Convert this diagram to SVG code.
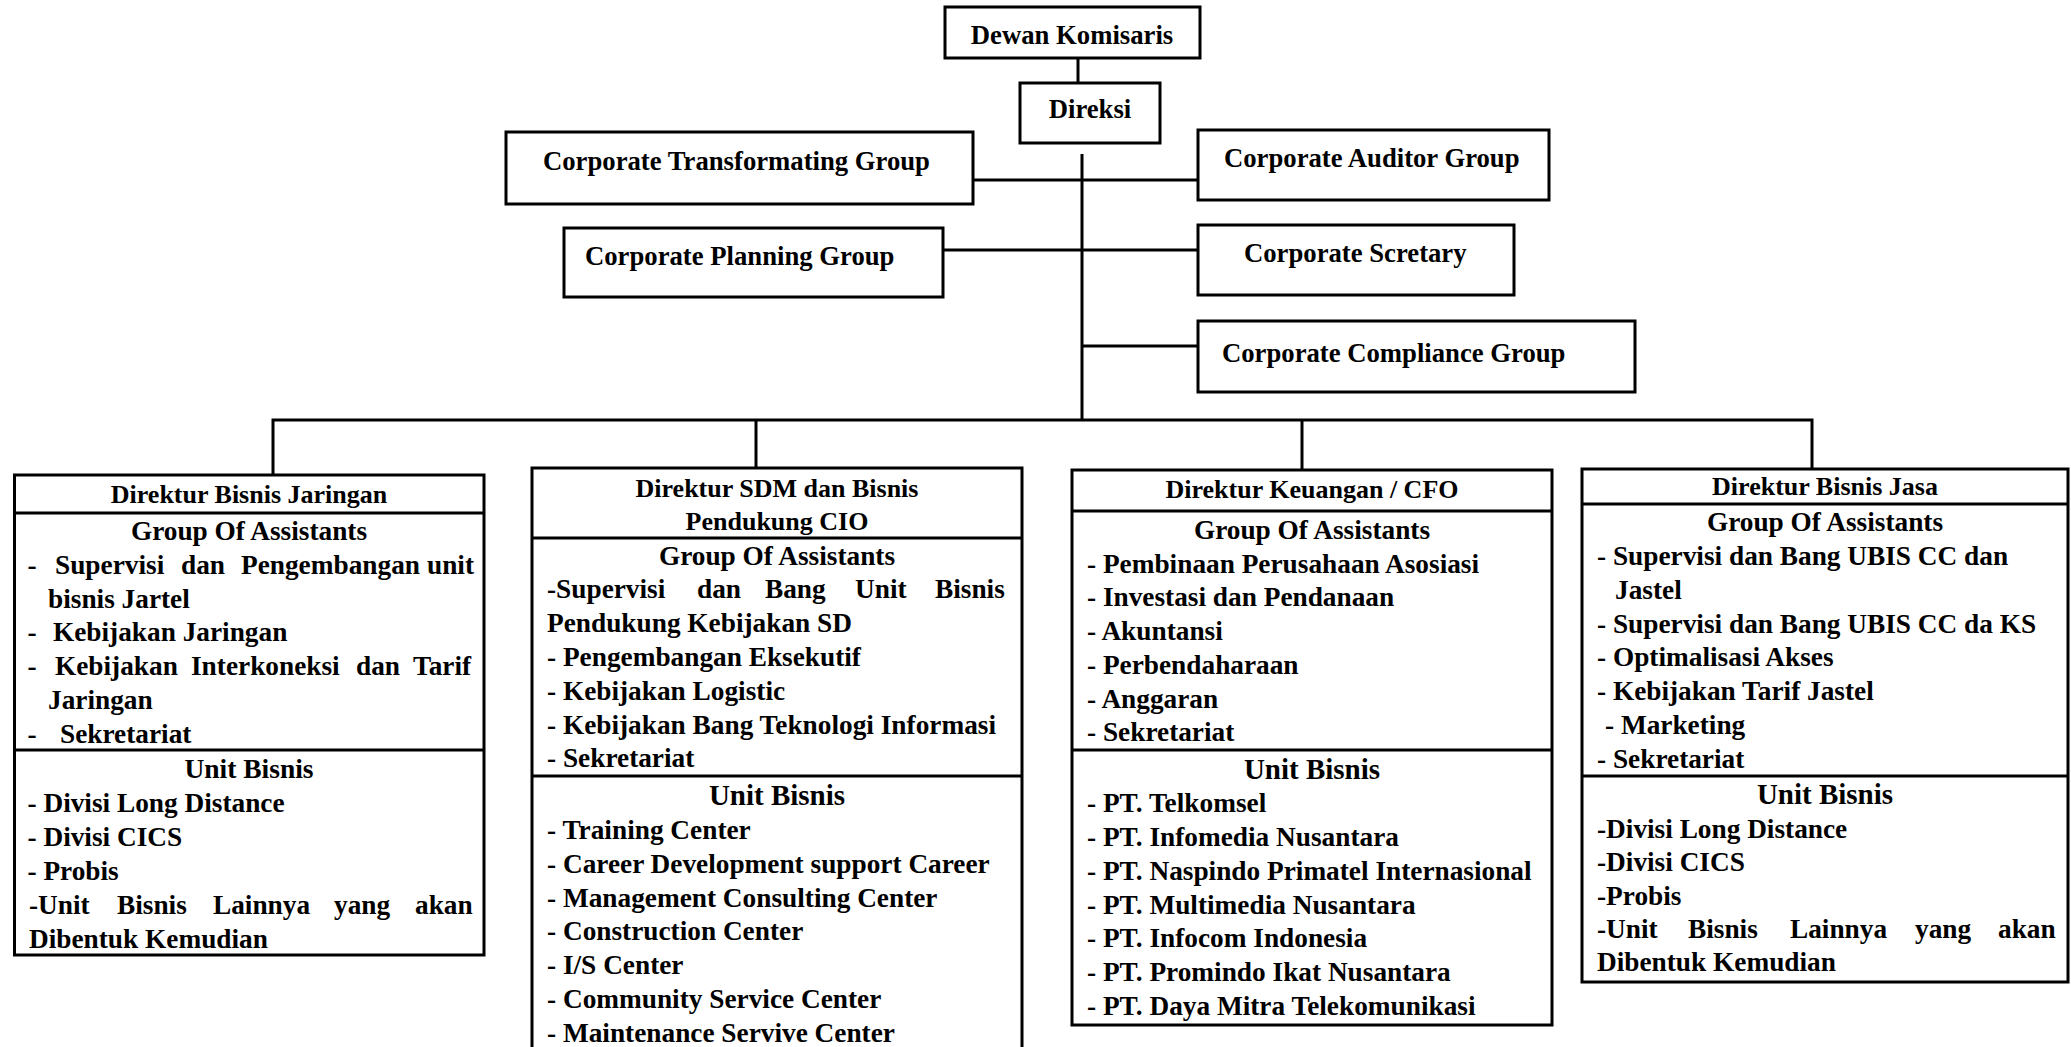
<svg xmlns="http://www.w3.org/2000/svg" width="2071" height="1047" viewBox="0 0 2071 1047">
<style>
.box{fill:#fff;stroke:#000;stroke-width:3}
.ln{stroke:#000;stroke-width:3;fill:none}
text{font-family:"Liberation Serif","Times New Roman",serif;font-weight:bold;fill:#000}
.t{font-size:26.7px}
.h{font-size:26px;text-anchor:middle}
.g{font-size:27.3px;text-anchor:middle}
.b{font-size:27.3px}
.u{font-size:29px;text-anchor:middle}
.u1{font-size:27.5px;text-anchor:middle}
</style>
<rect width="2071" height="1047" fill="#fff"/>
<g id="connectors">
<line class="ln" x1="1078" y1="58" x2="1078" y2="83"/>
<line class="ln" x1="1082" y1="154" x2="1082" y2="420"/>
<line class="ln" x1="973" y1="180" x2="1198" y2="180"/>
<line class="ln" x1="943" y1="250" x2="1198" y2="250"/>
<line class="ln" x1="1082" y1="346" x2="1198" y2="346"/>
<polyline class="ln" points="273,475 273,420 1812,420 1812,469"/>
<line class="ln" x1="756" y1="420" x2="756" y2="468"/>
<line class="ln" x1="1302" y1="420" x2="1302" y2="470"/>
</g>
<g id="dewan-komisaris">
<rect class="box" x="945" y="7" width="255" height="51"/>
<text class="t" x="1072" y="44" text-anchor="middle">Dewan Komisaris</text>
</g>
<g id="direksi">
<rect class="box" x="1020" y="83" width="140" height="60"/>
<text class="t" x="1090" y="118" text-anchor="middle">Direksi</text>
</g>
<g id="corporate-transformating-group">
<rect class="box" x="506" y="132" width="467" height="72"/>
<text class="t" x="543" y="170">Corporate Transformating Group</text>
</g>
<g id="corporate-planning-group">
<rect class="box" x="564" y="228" width="379" height="69"/>
<text class="t" x="585" y="265">Corporate Planning Group</text>
</g>
<g id="corporate-auditor-group">
<rect class="box" x="1198" y="130" width="351" height="70"/>
<text class="t" x="1224" y="167">Corporate Auditor Group</text>
</g>
<g id="corporate-scretary">
<rect class="box" x="1198" y="225" width="316" height="70"/>
<text class="t" x="1244" y="262">Corporate Scretary</text>
</g>
<g id="corporate-compliance-group">
<rect class="box" x="1198" y="321" width="437" height="71"/>
<text class="t" x="1222" y="362">Corporate Compliance Group</text>
</g>
<g id="direktur-bisnis-jaringan">
<rect class="box" x="14.5" y="475" width="469.5" height="480"/>
<line class="ln" x1="14.5" y1="513" x2="484" y2="513"/>
<line class="ln" x1="14.5" y1="750" x2="484" y2="750"/>
<text class="h" x="249" y="503">Direktur Bisnis Jaringan</text>
<text class="g" x="249" y="540">Group Of Assistants</text>
<text class="b" y="574"><tspan x="27.5">-</tspan><tspan x="55">Supervisi</tspan><tspan x="181">dan</tspan><tspan x="241">Pengembangan</tspan><tspan x="427">unit</tspan></text>
<text class="b" x="48" y="608">bisnis Jartel</text>
<text class="b" y="641"><tspan x="27.5">-</tspan><tspan x="53">Kebijakan Jaringan</tspan></text>
<text class="b" y="675"><tspan x="27.5">-</tspan><tspan x="55">Kebijakan</tspan><tspan x="191">Interkoneksi</tspan><tspan x="356">dan</tspan><tspan x="413">Tarif</tspan></text>
<text class="b" x="48" y="709">Jaringan</text>
<text class="b" y="743"><tspan x="27.5">-</tspan><tspan x="60">Sekretariat</tspan></text>
<text class="u1" x="249" y="778">Unit Bisnis</text>
<text class="b" x="27.5" y="812">- Divisi Long Distance</text>
<text class="b" x="27.5" y="846">- Divisi CICS</text>
<text class="b" x="27.5" y="880">- Probis</text>
<text class="b" y="914"><tspan x="29">-Unit</tspan><tspan x="117">Bisnis</tspan><tspan x="213">Lainnya</tspan><tspan x="334">yang</tspan><tspan x="415">akan</tspan></text>
<text class="b" x="29" y="948">Dibentuk Kemudian</text>
</g>
<g id="direktur-sdm">
<rect class="box" x="532" y="468" width="490" height="600"/>
<line class="ln" x1="532" y1="538" x2="1022" y2="538"/>
<line class="ln" x1="532" y1="776" x2="1022" y2="776"/>
<text class="h" x="777" y="497">Direktur SDM dan Bisnis</text>
<text class="h" x="777" y="530">Pendukung CIO</text>
<text class="g" x="777" y="565">Group Of Assistants</text>
<text class="b" y="598"><tspan x="547">-Supervisi</tspan><tspan x="697">dan</tspan><tspan x="765">Bang</tspan><tspan x="855">Unit</tspan><tspan x="935">Bisnis</tspan></text>
<text class="b" x="547" y="632">Pendukung Kebijakan SD</text>
<text class="b" x="547" y="666">- Pengembangan Eksekutif</text>
<text class="b" x="547" y="700">- Kebijakan Logistic</text>
<text class="b" x="547" y="734">- Kebijakan Bang Teknologi Informasi</text>
<text class="b" x="547" y="767">- Sekretariat</text>
<text class="u" x="777" y="805">Unit Bisnis</text>
<text class="b" x="547" y="839">- Training Center</text>
<text class="b" x="547" y="873">- Career Development support Career</text>
<text class="b" x="547" y="907">- Management Consulting Center</text>
<text class="b" x="547" y="940">- Construction Center</text>
<text class="b" x="547" y="974">- I/S Center</text>
<text class="b" x="547" y="1008">- Community Service Center</text>
<text class="b" x="547" y="1042">- Maintenance Servive Center</text>
</g>
<g id="direktur-keuangan">
<rect class="box" x="1072" y="470" width="480" height="555"/>
<line class="ln" x1="1072" y1="511" x2="1552" y2="511"/>
<line class="ln" x1="1072" y1="750" x2="1552" y2="750"/>
<text class="h" x="1312" y="498">Direktur Keuangan / CFO</text>
<text class="g" x="1312" y="539">Group Of Assistants</text>
<text class="b" x="1087" y="573">- Pembinaan Perusahaan Asosiasi</text>
<text class="b" x="1087" y="606">- Investasi dan Pendanaan</text>
<text class="b" x="1087" y="640">- Akuntansi</text>
<text class="b" x="1087" y="674">- Perbendaharaan</text>
<text class="b" x="1087" y="708">- Anggaran</text>
<text class="b" x="1087" y="741">- Sekretariat</text>
<text class="u" x="1312" y="779">Unit Bisnis</text>
<text class="b" x="1087" y="812">- PT. Telkomsel</text>
<text class="b" x="1087" y="846">- PT. Infomedia Nusantara</text>
<text class="b" x="1087" y="880">- PT. Naspindo Primatel Internasional</text>
<text class="b" x="1087" y="914">- PT. Multimedia Nusantara</text>
<text class="b" x="1087" y="947">- PT. Infocom Indonesia</text>
<text class="b" x="1087" y="981">- PT. Promindo Ikat Nusantara</text>
<text class="b" x="1087" y="1015">- PT. Daya Mitra Telekomunikasi</text>
</g>
<g id="direktur-bisnis-jasa">
<rect class="box" x="1582" y="469" width="486" height="513"/>
<line class="ln" x1="1582" y1="504" x2="2068" y2="504"/>
<line class="ln" x1="1582" y1="776" x2="2068" y2="776"/>
<text class="h" x="1825" y="495">Direktur Bisnis Jasa</text>
<text class="g" x="1825" y="531">Group Of Assistants</text>
<text class="b" x="1597" y="565">- Supervisi dan Bang UBIS CC dan</text>
<text class="b" x="1615" y="599">Jastel</text>
<text class="b" x="1597" y="633">- Supervisi dan Bang UBIS CC da KS</text>
<text class="b" x="1597" y="666">- Optimalisasi Akses</text>
<text class="b" x="1597" y="700">- Kebijakan Tarif Jastel</text>
<text class="b" x="1605" y="734">- Marketing</text>
<text class="b" x="1597" y="768">- Sekretariat</text>
<text class="u" x="1825" y="804">Unit Bisnis</text>
<text class="b" x="1597" y="838">-Divisi Long Distance</text>
<text class="b" x="1597" y="871">-Divisi CICS</text>
<text class="b" x="1597" y="905">-Probis</text>
<text class="b" y="938"><tspan x="1597">-Unit</tspan><tspan x="1688">Bisnis</tspan><tspan x="1790">Lainnya</tspan><tspan x="1915">yang</tspan><tspan x="1998">akan</tspan></text>
<text class="b" x="1597" y="971">Dibentuk Kemudian</text>
</g>
</svg>
